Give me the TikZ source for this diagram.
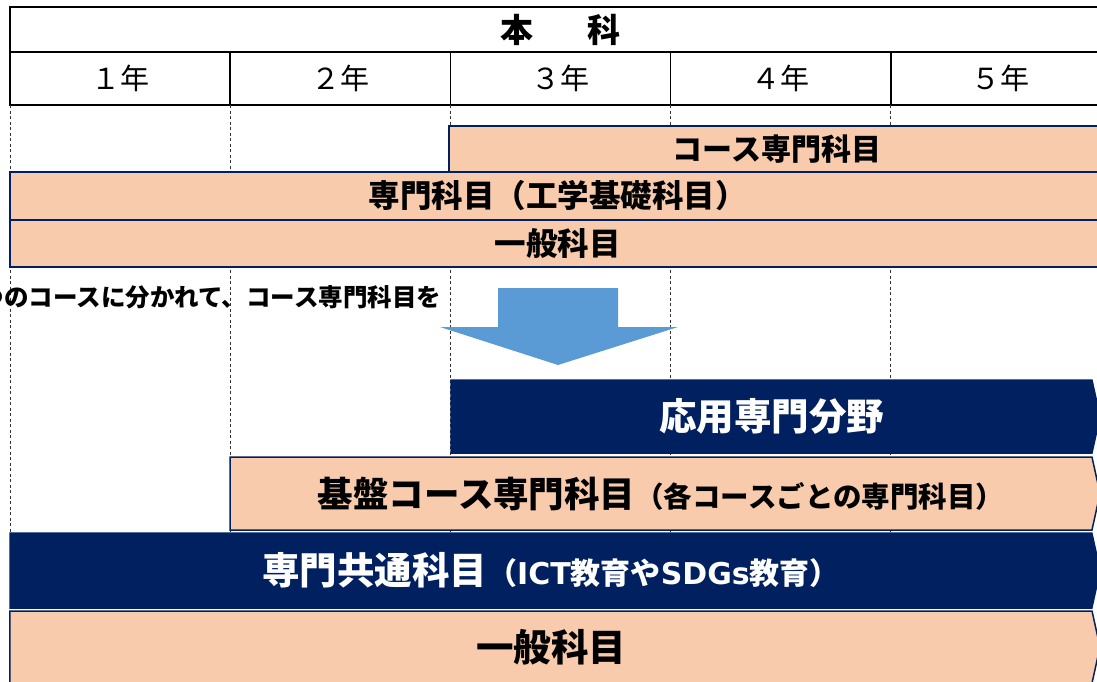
\documentclass[tikz,border=0pt]{standalone}
\usepackage{fontspec}
\setmainfont{Noto Sans CJK JP}
\newfontfamily\latin{DejaVu Sans}
\usetikzlibrary{positioning,shapes.symbols}
\definecolor{peach}{HTML}{F8CBAD}
\definecolor{navy}{HTML}{002060}
\definecolor{arrowblue}{HTML}{5B9BD5}
\newcommand{\fs}[1]{\fontsize{#1}{#1}\selectfont}

\begin{document}
\begin{tikzpicture}[
    x=1pt, y=-1pt,
    every node/.style={inner sep=0pt, outer sep=0pt},
    head cell/.style={draw=black, line width=1.5pt, minimum width=220.2pt, minimum height=53pt, font=\fs{29}},
    band/.style={draw=navy, line width=1.5pt, fill=peach, anchor=north west, font=\bfseries\fs{30}},
    dark band/.style={band, fill=navy, text=white},
    tip band/.style={signal, signal to=east, signal pointer angle=155, anchor=center},
    year line/.style={dash pattern=on 3pt off 2.5pt, black!80, line width=1pt}
    ]

    \useasboundingbox (0,0) rectangle (1097,681);
    \coordinate (bottom) at (0,681);

    % header table
    \node[head cell, minimum width=1101pt, minimum height=45pt, anchor=north west, font=\bfseries\fs{33}] (honka) at (10,7) {本\hspace{54pt}科};
    \node[head cell, anchor=north west] (y1) at (honka.south west) {１年};
    \node[head cell, right=0pt of y1] (y2) {２年};
    \node[head cell, right=0pt of y2] (y3) {３年};
    \node[head cell, right=0pt of y3] (y4) {４年};
    \node[head cell, right=0pt of y4] (y5) {５年};

    \foreach \c in {y1,y2,y3,y4,y5}
      \draw[year line] (\c.south west) -- (\c.south west |- bottom);

    % upper bands
    \node[band, minimum width=656pt, minimum height=46pt] (course) at (449,126) {コース専門科目};
    \node[band, minimum width=1095pt, minimum height=48pt, font=\bfseries\fs{31.5}] (kiso) at (10,172) {専門科目（工学基礎科目）};
    \node[band, minimum width=1095pt, minimum height=47pt, below=0pt of kiso, font=\bfseries\fs{31.5}] (ippan) {一般科目};

    \node[anchor=east, font=\bfseries\fs{24.5}] (bunki) at (441,297) {つのコースに分かれて、コース専門科目を};

    % arrow
    \fill[arrowblue] (498,288) -- (618,288) -- (618,327) -- (678,327) -- (558,365) -- (440,327) -- (498,327) -- cycle;

    % lower bands
    \node[dark band, tip band, minimum width=649pt, minimum height=73pt, font=\bfseries\fs{37.5}] (oyo) at (771.5,416.5) {応用専門分野};
    \node[band, tip band, minimum width=870pt, minimum height=73pt] (kiban) at (661,493.5)
      {{\fs{35.5}基盤コース専門科目}{\fs{28.5}（各コースごとの専門科目）}};
    \node[dark band, tip band, minimum width=1090pt, minimum height=75pt] (kyotsu) at (551,570.5)
      {{\fs{37.5}専門共通科目}{\fs{30}（{\latin ICT}教育や{\latin SDGs}教育）}};
    \node[band, tip band, minimum width=1090pt, minimum height=72pt, font=\bfseries\fs{37.5}] (ippan2) at (551,647) {一般科目};
\end{tikzpicture}
\end{document}
